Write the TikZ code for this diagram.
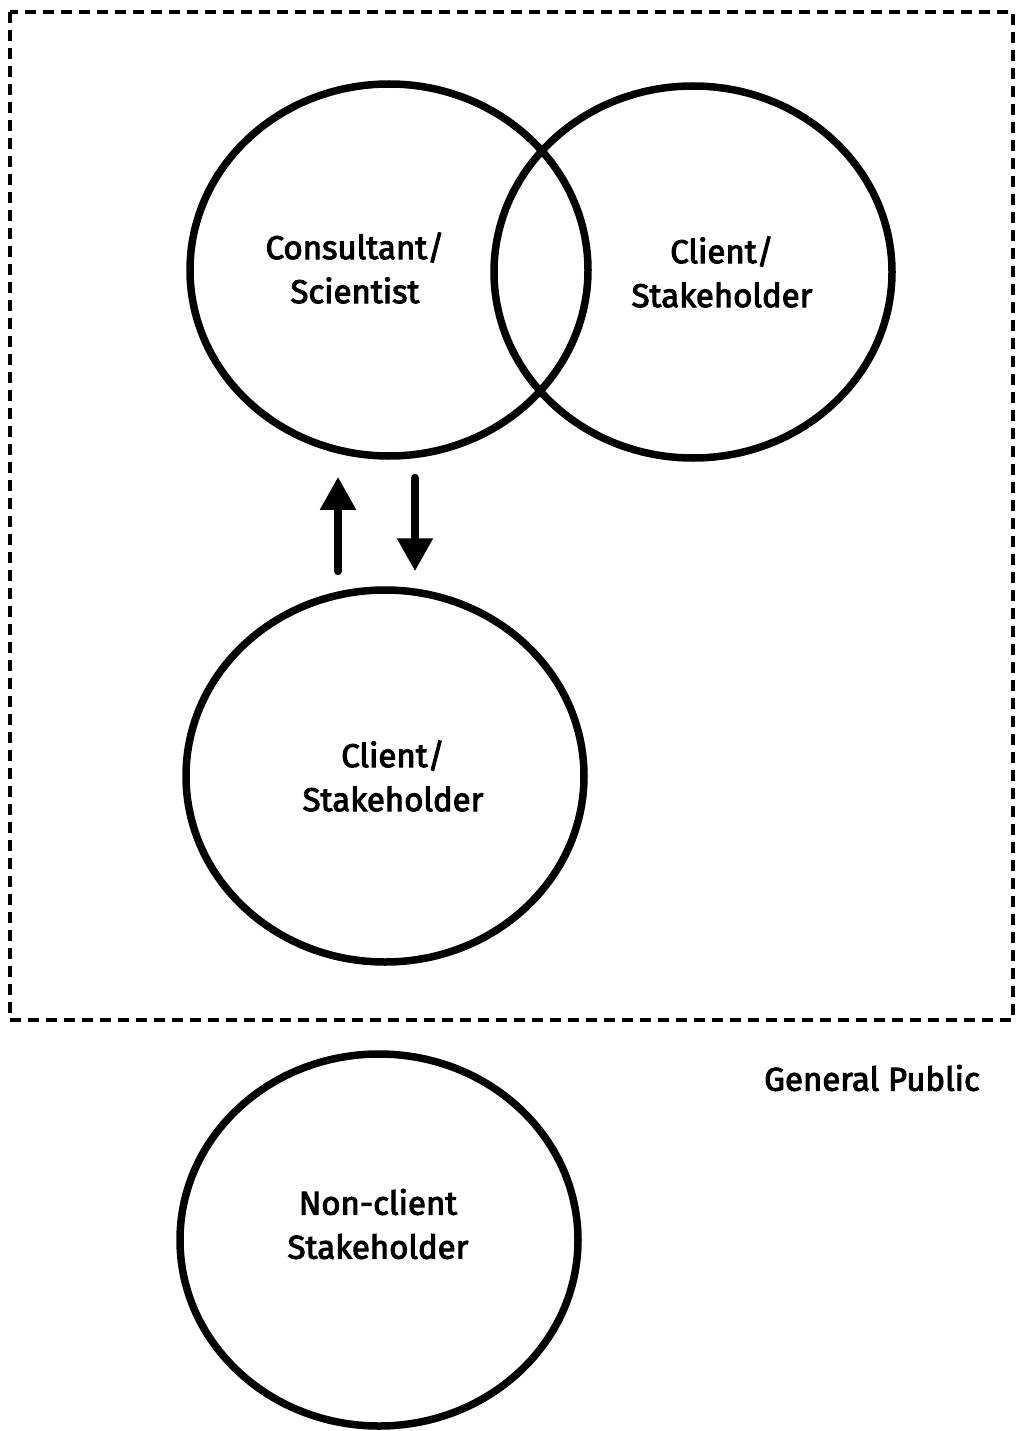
\documentclass[tikz,border=0pt]{standalone}
\usepackage{fontspec}
\setmainfont{Fira Sans}[UprightFeatures={FakeBold=3}]
\usetikzlibrary{positioning,shapes.geometric,arrows.meta}

\begin{document}
\begin{tikzpicture}[
    x=1pt, y=-1pt,
    party/.style={draw, ellipse, line width=7.5pt, inner sep=0pt, minimum width=398pt, minimum height=372pt},
    label/.style={align=center, font=\fontsize{33}{44}\selectfont},
    bigarrow/.style={line width=8pt, line cap=round, -{Triangle[length=33pt,width=34pt]}},
    border/.style={line width=4pt, dash pattern=on 11pt off 7pt}
]
\useasboundingbox (0,0) rectangle (1016,1431);

% Frame
\draw[border] (10,12) rectangle (1013,1020);

% Nodes
\node[party] (cons) at (389,270) {};
\node[party] (client) at (693,272) {};
\node[party] (mid) at (385,776) {};
\node[party] (nonclient) at (379,1240) {};

\node[label] (consText) at (355,268) {Consultant/\\Scientist};
\node[label] (clientText) at (722,272) {Client/\\Stakeholder};
\node[label] (midText) at (393,776) {Client/\\Stakeholder};
\node[label] (nonclientText) at (378,1224) {Non-client\\Stakeholder};
\node[label] (public) at (872,1078) {General Public};

% Arrows
\coordinate (upx) at (338,0);
\coordinate (downx) at (415,0);
\draw[bigarrow, shorten <=15pt, shorten >=17pt] (mid.north -| upx) -- (cons.south -| upx);
\draw[bigarrow, shorten <=18pt, shorten >=15pt] (cons.south -| downx) -- (mid.north -| downx);

\end{tikzpicture}
\end{document}
